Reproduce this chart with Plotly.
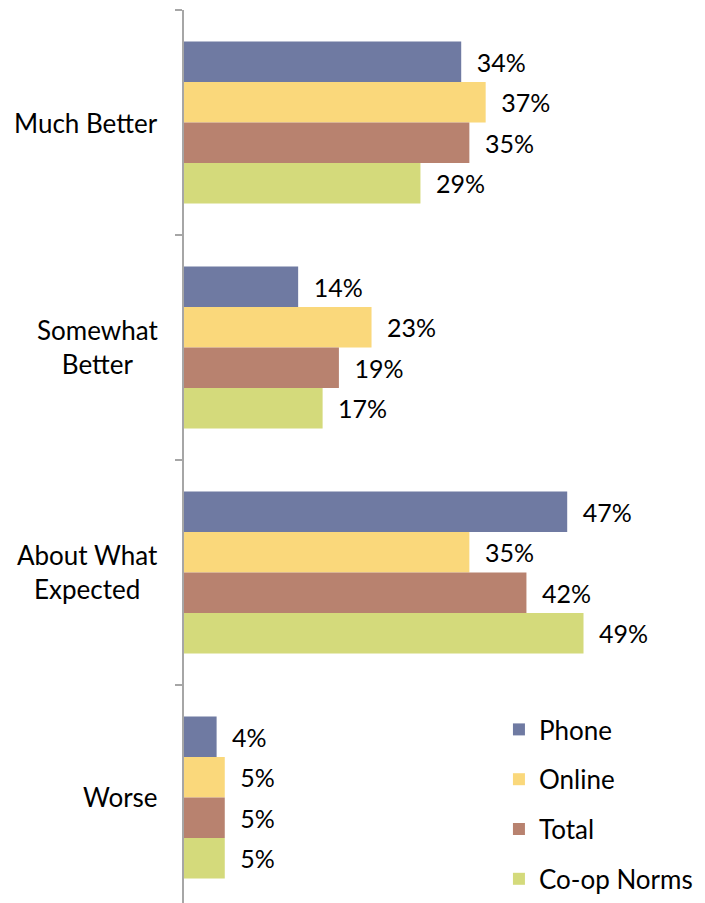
import plotly.graph_objects as go

categories = ["Much Better", "Somewhat Better", "About What Expected", "Worse"]
category_labels = ["Much Better", "Somewhat<br>Better", "About What<br>Expected", "Worse"]
series_names = ["Phone", "Online", "Total", "Co-op Norms"]
phone = [34, 14, 47, 4]
online = [37, 23, 35, 5]
total = [35, 19, 42, 5]
coop = [29, 17, 49, 5]

colors = ["#6F7AA2", "#FAD87B", "#B8826F", "#D4DA7B"]
FONT = "Lato, 'Open Sans', sans-serif"

fig = go.Figure()
for name, vals, col in zip(series_names, [phone, online, total, coop], colors):
    fig.add_trace(go.Bar(
        y=categories, x=vals, name=name, orientation="h",
        marker=dict(color=col, line=dict(width=0)),
        text=["\u2002" + f"{v}%" for v in vals],
        textposition="outside", constraintext="none", cliponaxis=False,
        textfont=dict(family=FONT, size=25, color="#000000"),
        legendgroup=name,
        hoverinfo="skip",
    ))

for cat, lab in zip(categories, category_labels):
    fig.add_annotation(x=0, xref="paper", y=cat, yref="y", text=lab,
                       xanchor="right", align="center", xshift=-24,
                       showarrow=False, font=dict(family=FONT, size=26, color="#000000"))

# page body has an 8px default margin, so the figure is sized/offset to compensate
fig.update_layout(
    width=697, height=895,
    margin=dict(l=176, r=0, t=2, b=0),
    paper_bgcolor="white", plot_bgcolor="white",
    barmode="group", bargap=0.28, bargroupgap=0,
    font=dict(family=FONT, size=25, color="#000000"),
    showlegend=True,
    legend=dict(x=0.6045, y=0.0, xanchor="left", yanchor="bottom",
                bgcolor="rgba(0,0,0,0)", tracegroupgap=13,
                font=dict(family=FONT, size=26, color="#000000")),
    xaxis=dict(range=[0, 63.9], visible=False, showgrid=False, zeroline=False),
    yaxis=dict(type="category", range=[3.469, -0.5], showticklabels=False,
               showline=True, linecolor="#A6A6A6", linewidth=2,
               ticks="outside", tickson="boundaries", ticklen=7,
               tickcolor="#A6A6A6", tickwidth=2, showgrid=False, zeroline=False),
)

fig.write_html("out.html")
